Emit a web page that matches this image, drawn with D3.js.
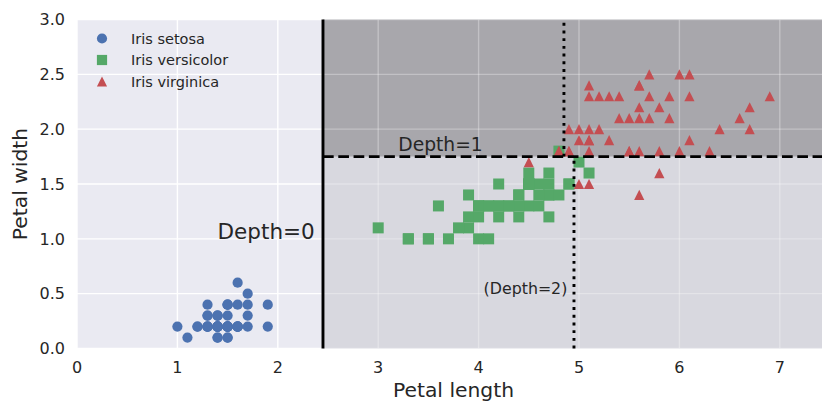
<!DOCTYPE html>
<html>
<head>
<meta charset="utf-8">
<script src="https://cdn.jsdelivr.net/npm/d3@7"></script>
<style>
  body { margin: 0; background: #fff; }
  text { font-family: "DejaVu Sans", sans-serif; fill: #262626; }
</style>
</head>
<body>
<div id="chart"></div>
<script>
// iris petal measurements (length, width) per species
let setosaLength = [1.4,1.4,1.3,1.5,1.4,1.7,1.4,1.5,1.4,1.5,1.5,1.6,1.4,1.1,1.2,1.5,1.3,1.4,1.7,1.5,1.7,1.5,1.0,1.7,1.9,1.6,1.6,1.5,1.4,1.6,1.6,1.5,1.5,1.4,1.5,1.2,1.3,1.4,1.3,1.5,1.3,1.3,1.3,1.6,1.9,1.4,1.6,1.4,1.5,1.4];
let setosaWidth = [0.2,0.2,0.2,0.2,0.2,0.4,0.3,0.2,0.2,0.1,0.2,0.2,0.1,0.1,0.2,0.4,0.4,0.3,0.3,0.3,0.2,0.4,0.2,0.5,0.2,0.2,0.4,0.2,0.2,0.2,0.2,0.4,0.1,0.2,0.2,0.2,0.2,0.1,0.2,0.2,0.3,0.3,0.2,0.6,0.4,0.3,0.2,0.2,0.2,0.2];
let versicolorLength = [4.7,4.5,4.9,4.0,4.6,4.5,4.7,3.3,4.6,3.9,3.5,4.2,4.0,4.7,3.6,4.4,4.5,4.1,4.5,3.9,4.8,4.0,4.9,4.7,4.3,4.4,4.8,5.0,4.5,3.5,3.8,3.7,3.9,5.1,4.5,4.5,4.7,4.4,4.1,4.0,4.4,4.6,4.0,3.3,4.2,4.2,4.2,4.3,3.0,4.1];
let versicolorWidth = [1.4,1.5,1.5,1.3,1.5,1.3,1.6,1.0,1.3,1.4,1.0,1.5,1.0,1.4,1.3,1.4,1.5,1.0,1.5,1.1,1.8,1.3,1.5,1.2,1.3,1.4,1.4,1.7,1.5,1.0,1.1,1.0,1.2,1.6,1.5,1.6,1.5,1.3,1.3,1.3,1.2,1.4,1.2,1.0,1.3,1.2,1.3,1.3,1.1,1.3];
let virginicaLength = [6.0,5.1,5.9,5.6,5.8,6.6,4.5,6.3,5.8,6.1,5.1,5.3,5.5,5.0,5.1,5.3,5.5,6.7,6.9,5.0,5.7,4.9,6.7,4.9,5.7,6.0,4.8,4.9,5.6,5.8,6.1,6.4,5.6,5.1,5.6,6.1,5.6,5.5,4.8,5.4,5.6,5.1,5.1,5.9,5.7,5.2,5.0,5.2,5.4,5.1];
let virginicaWidth = [2.5,1.9,2.1,1.8,2.2,2.1,1.7,1.8,1.8,2.5,2.0,1.9,2.1,2.0,2.4,2.3,1.8,2.2,2.3,1.5,2.3,2.0,2.0,1.8,2.1,1.8,1.8,1.8,2.1,1.6,1.9,2.0,2.2,1.5,1.4,2.3,2.4,1.8,1.8,2.1,2.4,2.3,1.9,2.3,2.5,2.3,1.9,2.0,2.3,1.8];

let speciesNames = ["Iris setosa", "Iris versicolor", "Iris virginica"];
let xTicks = [0, 1, 2, 3, 4, 5, 6, 7];
let yTicks = [0.0, 0.5, 1.0, 1.5, 2.0, 2.5, 3.0];

// tree splits
let rootSplit = 2.45;     // petal length
let depth1Split = 1.75;   // petal width
let depth2Splits = [4.95, 4.85];

let width = 822, height = 401;
let x = d3.scaleLinear().domain([0, 7.5]).range([77, 830]);
let y = d3.scaleLinear().domain([0, 3]).range([348.5, 19.5]);

let svg = d3.select("#chart").append("svg")
  .attr("width", width)
  .attr("height", height);

// background + grid
svg.append("rect")
  .attr("x", x(0)).attr("y", y(3))
  .attr("width", x(7.5) - x(0)).attr("height", y(0) - y(3))
  .attr("fill", "#EAEAF2");

function drawGrid(g) {
  g.selectAll(".vx").data(xTicks).enter().append("line")
    .attr("x1", d => x(d)).attr("x2", d => x(d))
    .attr("y1", y(0)).attr("y2", y(3));
  g.selectAll(".hy").data(yTicks).enter().append("line")
    .attr("x1", x(0)).attr("x2", x(7.5))
    .attr("y1", d => y(d)).attr("y2", d => y(d));
}
let grid = svg.append("g").attr("stroke", "#fff").attr("stroke-width", 1.4);
drawGrid(grid);

// decision regions
svg.append("rect")
  .attr("x", x(rootSplit)).attr("y", y(depth1Split))
  .attr("width", x(7.5) - x(rootSplit)).attr("height", y(0) - y(depth1Split))
  .attr("fill", "#D8D8DF");
svg.append("rect")
  .attr("x", x(rootSplit)).attr("y", y(3))
  .attr("width", x(7.5) - x(rootSplit)).attr("height", y(depth1Split) - y(3))
  .attr("fill", "#A8A7AC");

let grid2 = svg.append("g").attr("stroke", "#fff").attr("stroke-width", 1.4)
  .attr("stroke-opacity", 0.3)
  .attr("clip-path", "url(#rightClip)");
svg.append("clipPath").attr("id", "rightClip").append("rect")
  .attr("x", x(rootSplit)).attr("y", y(3))
  .attr("width", x(7.5) - x(rootSplit)).attr("height", y(0) - y(3));
drawGrid(grid2);

// points
let ms = 10.2;
let sq = 11;
let zip = (a, b) => a.map((v, i) => [v, b[i]]);

svg.append("g").selectAll("circle")
  .data(zip(setosaLength, setosaWidth)).enter().append("circle")
  .attr("cx", d => x(d[0])).attr("cy", d => y(d[1]))
  .attr("r", ms / 2).attr("fill", "#4C72B0");

svg.append("g").selectAll("rect")
  .data(zip(versicolorLength, versicolorWidth)).enter().append("rect")
  .attr("x", d => x(d[0]) - sq / 2).attr("y", d => y(d[1]) - sq / 2)
  .attr("width", sq).attr("height", sq).attr("fill", "#55A868");

let tri = (cx, cy) => `M${cx},${cy - ms / 2}L${cx + ms / 2},${cy + ms / 2}L${cx - ms / 2},${cy + ms / 2}Z`;
svg.append("g").selectAll("path")
  .data(zip(virginicaLength, virginicaWidth)).enter().append("path")
  .attr("d", d => tri(x(d[0]), y(d[1])))
  .attr("fill", "#C44E52");

// split lines
svg.append("line")
  .attr("x1", x(rootSplit)).attr("x2", x(rootSplit))
  .attr("y1", y(0)).attr("y2", y(3))
  .attr("stroke", "#000").attr("stroke-width", 2.9);
svg.append("line")
  .attr("x1", x(rootSplit)).attr("x2", x(7.5))
  .attr("y1", y(depth1Split)).attr("y2", y(depth1Split))
  .attr("stroke", "#000").attr("stroke-width", 2.9)
  .attr("stroke-dasharray", "10.7,4.6");
svg.append("line")
  .attr("x1", x(depth2Splits[0])).attr("x2", x(depth2Splits[0]))
  .attr("y1", y(0)).attr("y2", y(depth1Split))
  .attr("stroke", "#000").attr("stroke-width", 2.9)
  .attr("stroke-dasharray", "2.9,4.8");
svg.append("line")
  .attr("x1", x(depth2Splits[1])).attr("x2", x(depth2Splits[1]))
  .attr("y1", y(depth1Split)).attr("y2", y(3))
  .attr("stroke", "#000").attr("stroke-width", 2.9)
  .attr("stroke-dasharray", "2.9,4.8");

// annotations
svg.append("text").attr("x", x(1.40)).attr("y", y(1.0))
  .attr("font-size", 21.5).text("Depth=0");
svg.append("text").attr("x", x(3.2)).attr("y", y(1.80))
  .attr("font-size", 18.7).text("Depth=1");
svg.append("text").attr("x", x(4.05)).attr("y", y(0.5))
  .attr("font-size", 15.8).text("(Depth=2)");

// tick labels
svg.append("g").selectAll("text").data(xTicks).enter().append("text")
  .attr("x", d => x(d)).attr("y", 373)
  .attr("text-anchor", "middle").attr("font-size", 16)
  .text(d => d);
svg.append("g").selectAll("text").data(yTicks).enter().append("text")
  .attr("x", 65).attr("y", d => y(d))
  .attr("dy", "0.36em")
  .attr("text-anchor", "end").attr("font-size", 16)
  .text(d => d.toFixed(1));

// axis labels
svg.append("text").attr("x", x(3.75)).attr("y", 397)
  .attr("text-anchor", "middle").attr("font-size", 20.3)
  .text("Petal length");
svg.append("text")
  .attr("transform", `translate(27,${(y(0) + y(3)) / 2}) rotate(-90)`)
  .attr("text-anchor", "middle").attr("font-size", 20.3)
  .text("Petal width");

// legend
let legend = svg.append("g");
let rows = [38.5, 60, 81.5];
legend.append("circle").attr("cx", 102).attr("cy", rows[0]).attr("r", ms / 2).attr("fill", "#4C72B0");
legend.append("rect").attr("x", 102 - ms / 2).attr("y", rows[1] - ms / 2)
  .attr("width", ms).attr("height", ms).attr("fill", "#55A868");
legend.append("path").attr("d", tri(102, rows[2])).attr("fill", "#C44E52");
legend.selectAll("text").data(speciesNames).enter().append("text")
  .attr("x", 131).attr("y", (d, i) => rows[i]).attr("dy", "0.36em")
  .attr("font-size", 14.5).text(d => d);
</script>
</body>
</html>
